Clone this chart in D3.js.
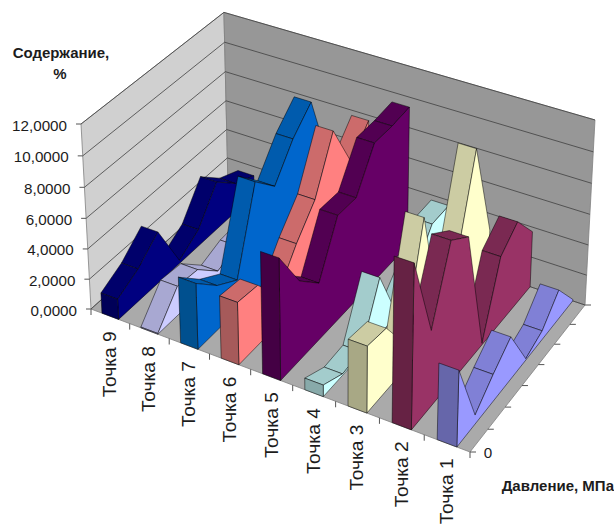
<!DOCTYPE html>
<html>
<head>
<meta charset="utf-8">
<script src="https://d3js.org/d3.v7.min.js"></script>
<style>
html,body{margin:0;padding:0;background:#fff}
svg{display:block}
text{font-family:"Liberation Sans",Arial,sans-serif;fill:#1c1c1c}
</style>
</head>
<body>
<svg id="chart" width="614" height="524"></svg>
<script>
// Categories run left to right along the front edge; levels run front to back.
const categories = ["Точка 9","Точка 8","Точка 7","Точка 6","Точка 5","Точка 4","Точка 3","Точка 2","Точка 1"];
const pressureLevels = ["0","1","2","3","4","5","6","7"];
const contentTicks = [0,2,4,6,8,10,12];

const tochka1 = [4.8,0.6,1.8,2.85,0.1,0.6,2.0,0.1];
const tochka2 = [10.3,4.9,9.2,8.2,0.1,4.5,5.55,3.7];
const tochka3 = [4.25,4.05,1.8,8.5,1.0,3.6,9.4,2.9];
const tochka4 = [0.75,0.1,0.2,3.75,0.05,1.6,3.6,3.65];
const tochka5 = [7.8,5.1,3.7,6.85,6.8,9.2,9.2,9.35];
const tochka6 = [4.05,3.87,2.0,4.1,5.8,9.15,6.0,7.65];
const tochka7 = [4.3,2.9,2.0,7.25,5.8,7.8,9.15,4.0];
const tochka8 = [0.05,1.9,1.75,0.4,0.9,1.0,0.8,0.5];
const tochka9 = [1.35,2.1,3.35,0.2,1.1,3.2,1.95,1.35];

const seriesValues = [tochka9,tochka8,tochka7,tochka6,tochka5,tochka4,tochka3,tochka2,tochka1];
const sideColors  = ["#000080","#ccccff","#0066cc","#ff8080","#660066","#ccffff","#ffffcc","#993366","#9999ff"];
const frontColors = ["#000058","#a8a8d4","#00508f","#a65a5a","#440044","#88aaaa","#a8a885","#662244","#6666aa"];
const topColors   = ["#00006b","#a8a8d2","#005bad","#cc6b6b","#520052","#a3cccc","#cccca3","#7a2952","#8080d6"];

// Floor corners and the point the verticals converge to, in page coordinates.
const floorFrontLeft=[91,309], floorFrontRight=[470,452], floorBackRight=[585,305], floorBackLeft=[228,186];
const verticalVanish=[338,4880], wallTopFrontLeftY=124;

function floorHomography(p0,p1,p2,p3){
  const dx1=p1[0]-p2[0], dx2=p3[0]-p2[0], sx=p0[0]-p1[0]+p2[0]-p3[0];
  const dy1=p1[1]-p2[1], dy2=p3[1]-p2[1], sy=p0[1]-p1[1]+p2[1]-p3[1];
  const den=dx1*dy2-dx2*dy1;
  const g=(sx*dy2-dx2*sy)/den, h=(dx1*sy-sx*dy1)/den;
  return {a:p1[0]-p0[0]+g*p1[0], b:p3[0]-p0[0]+h*p3[0], c:p0[0],
          d:p1[1]-p0[1]+g*p1[1], e:p3[1]-p0[1]+h*p3[1], f:p0[1], g, h};
}
const H=floorHomography(floorFrontLeft,floorFrontRight,floorBackRight,floorBackLeft);
const lift=(wallTopFrontLeftY-floorFrontLeft[1])/(verticalVanish[1]-wallTopFrontLeftY);

// Maps across (0..1), depth (0..1) and height (0..1) to the page.
function project(u,v,t){
  const w=H.g*u+H.h*v+1+lift*t;
  return [(H.a*u+H.b*v+H.c+lift*t*verticalVanish[0])/w,
          (H.d*u+H.e*v+H.f+lift*t*verticalVanish[1])/w];
}

const uBand=d3.scaleBand().domain(categories).range([0,1]).paddingInner(0.57).paddingOuter(0.285);
const uEdge=d3.scaleLinear().domain([0,categories.length]).range([0,1]);
const vPoint=d3.scalePoint().domain(pressureLevels).range([0,1]);
const tScale=d3.scaleLinear().domain([0,12]).range([0,1]);
const outline=d3.line().curve(d3.curveLinearClosed);
const straight=d3.line();

const svg=d3.select("#chart");

// Walls and floor
const walls=[
 {fill:"#d0d0d0",pts:[project(0,0,0),project(0,0,1),project(0,1,1),project(0,1,0)]},
 {fill:"#979797",pts:[project(0,1,0),project(0,1,1),project(1,1,1),project(1,1,0)]},
 {fill:"#aaaaaa",pts:[project(0,0,0),project(1,0,0),project(1,1,0),project(0,1,0)]}
];
svg.append("g").selectAll("path").data(walls).join("path")
  .attr("d",d=>outline(d.pts)).attr("fill",d=>d.fill)
  .attr("stroke","#808080").attr("stroke-width",0.8);

// Gridlines along both walls
svg.append("g").selectAll("path").data(contentTicks).join("path")
  .attr("d",d=>straight([project(0,0,tScale(d)),project(0,1,tScale(d)),project(1,1,tScale(d))]))
  .attr("fill","none").attr("stroke","#404040").attr("stroke-width",0.8);

// Tick marks
const axisStroke="#555";
const ticks=svg.append("g").attr("stroke",axisStroke).attr("stroke-width",1).attr("fill","none");
ticks.selectAll(".y").data(contentTicks).join("path").attr("class","y")
  .attr("d",d=>{const p=project(0,0,tScale(d));return straight([p,[p[0]-5,p[1]]]);});
ticks.selectAll(".x").data(d3.range(categories.length+1)).join("path").attr("class","x")
  .attr("d",d=>{const p=project(uEdge(d),0,0);return straight([p,[p[0],p[1]+6]]);});
ticks.selectAll(".z").data(pressureLevels).join("path").attr("class","z")
  .attr("d",d=>{const p=project(1,vPoint(d),0);return straight([p,[p[0]+6,p[1]]]);});

// Ribbons, left to right so each one overlaps its left neighbour
const ribbons=svg.append("g").attr("stroke","#000").attr("stroke-opacity",0.6).attr("stroke-width",0.8).attr("stroke-linejoin","round");
categories.forEach((name,k)=>{
  const values=seriesValues[k];
  const uL=uBand(name), uR=uL+uBand.bandwidth();
  const levels=pressureLevels.map(l=>vPoint(l));
  const rightTop=values.map((val,i)=>project(uR,levels[i],tScale(val)));
  const leftTop =values.map((val,i)=>project(uL,levels[i],tScale(val)));
  const g=ribbons.append("g");

  const quads=d3.range(values.length-2,-1,-1)
    .map(i=>[rightTop[i],rightTop[i+1],leftTop[i+1],leftTop[i]])
    .filter(q=>d3.polygonArea(q)>0);
  g.selectAll(".top").data(quads).join("path").attr("class","top")
    .attr("d",outline).attr("fill",topColors[k]);

  const side=[...rightTop,project(uR,1,0),project(uR,0,0)];
  g.append("path").attr("d",outline(side)).attr("fill",sideColors[k]);

  const front=[leftTop[0],rightTop[0],project(uR,0,0),project(uL,0,0)];
  g.append("path").attr("d",outline(front)).attr("fill",frontColors[k]);
});

// Axis text
svg.append("g").selectAll("text").data(contentTicks).join("text")
  .attr("x",d=>project(0,0,tScale(d))[0]-14)
  .attr("y",d=>project(0,0,tScale(d))[1]+1)
  .attr("text-anchor","end").attr("dominant-baseline","central")
  .attr("font-size",15.2)
  .text(d=>d3.format(".4f")(d).replace(".",","));

svg.append("g").selectAll("text").data(categories).join("text")
  .attr("transform",d=>{
    const p=project(uBand(d)+uBand.bandwidth()/2,0,0);
    return `translate(${p[0]+6},${p[1]+15}) rotate(-90)`;
  })
  .attr("text-anchor","end").attr("font-size",19.2).text(d=>d);

svg.append("text").attr("x",488).attr("y",452).attr("text-anchor","middle")
  .attr("dominant-baseline","central").attr("font-size",15.2).text(pressureLevels[0]);

const titles=svg.append("g").attr("font-weight","bold").attr("font-size",15);
titles.append("text").attr("x",61).attr("y",58).attr("text-anchor","middle").text("Содержание,");
titles.append("text").attr("x",60).attr("y",79).attr("text-anchor","middle").text("%");
titles.append("text").attr("x",614).attr("y",491).attr("text-anchor","end").text("Давление, МПа");
</script>
</body>
</html>
